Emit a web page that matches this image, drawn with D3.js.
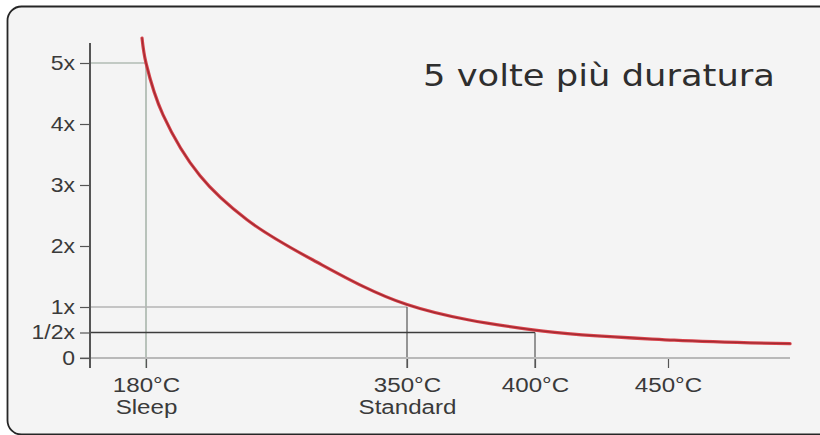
<!DOCTYPE html>
<html>
<head>
<meta charset="utf-8">
<script src="https://cdn.jsdelivr.net/npm/d3@7"></script>
<style>
  html, body { margin: 0; padding: 0; background: #ffffff; }
  svg { display: block; }
</style>
</head>
<body>
<svg id="chart" width="820" height="435"></svg>
<script>
// Tip temperature (°C) against relative tip life
const tempTicks = [180, 350, 400, 450];
const tempTickLabels = ["180°C", "350°C", "400°C", "450°C"];
const tempTickNotes = ["Sleep", "Standard", "", ""];

const lifeTicks = [0, 0.5, 1, 2, 3, 4, 5];
const lifeTickLabels = ["0", "1/2x", "1x", "2x", "3x", "4x", "5x"];

// Life curve samples
const curveTemps = [177.4, 180, 191.1, 215.2, 245.8, 288.8, 350, 399.2, 452.3, 495.9];
const curveLife  = [5.41, 5.0, 4.15, 3.15, 2.43, 1.77, 1.04, 0.55, 0.35, 0.28];

const title = "5 volte più duratura";

const svg = d3.select("#chart");

// Panel
svg.append("rect")
  .attr("x", 7.5).attr("y", 6.5)
  .attr("width", 860).attr("height", 428)
  .attr("rx", 14).attr("ry", 14)
  .attr("fill", "#f4f4f4")
  .attr("stroke", "#262626")
  .attr("stroke-width", 1.8);

// Scales (piecewise, the temperature axis is not evenly spaced)
const x = d3.scaleLinear().domain([180, 350, 400, 450]).range([146, 407, 535, 668]);
const y = d3.scaleLinear().domain([0, 1, 5]).range([358, 307, 63]);

const axisX0 = 90;       // y-axis position
const baseY = y(0);
const tickBottom = baseY + 10;

// Guide lines from the axis to the marked points
const guides = svg.append("g").attr("fill", "none");
guides.append("line")
  .attr("x1", axisX0).attr("x2", x(180)).attr("y1", y(5)).attr("y2", y(5))
  .attr("stroke", "#8fa093").attr("stroke-width", 1.2);
guides.append("line")
  .attr("x1", x(180)).attr("x2", x(180)).attr("y1", y(5)).attr("y2", tickBottom)
  .attr("stroke", "#8fa093").attr("stroke-width", 1.2);
guides.append("line")
  .attr("x1", axisX0).attr("x2", x(350)).attr("y1", y(1)).attr("y2", y(1))
  .attr("stroke", "#b4b4b4").attr("stroke-width", 1.3);
guides.append("line")
  .attr("x1", x(350)).attr("x2", x(350)).attr("y1", y(1)).attr("y2", tickBottom)
  .attr("stroke", "#555").attr("stroke-width", 1.2);
guides.append("line")
  .attr("x1", axisX0).attr("x2", x(400)).attr("y1", y(0.5)).attr("y2", y(0.5))
  .attr("stroke", "#3c3c3c").attr("stroke-width", 1.5);
guides.append("line")
  .attr("x1", x(400)).attr("x2", x(400)).attr("y1", y(0.5)).attr("y2", tickBottom)
  .attr("stroke", "#555").attr("stroke-width", 1.2);

// X axis
const xStretch = 1.15;
const xAxis = svg.append("g")
  .attr("transform", `translate(0,${baseY})`)
  .call(d3.axisBottom(x).tickValues(tempTicks).tickSize(10).tickSizeOuter(0).tickFormat(""));
xAxis.select(".domain").remove();
xAxis.selectAll(".tick line").attr("stroke", "#555").attr("stroke-width", 1.2);
xAxis.selectAll(".tick").each(function(d, i) {
  const t = d3.select(this).select("text")
    .attr("y", 0).attr("dy", null)
    .attr("transform", `translate(0,34) scale(${xStretch},1)`)
    .attr("fill", "#3a3a3a")
    .style("font-family", "'Liberation Sans', Arial, sans-serif")
    .style("font-size", "21px")
    .attr("text-anchor", "middle");
  t.text(null);
  t.append("tspan").attr("x", 0).attr("y", 0).text(tempTickLabels[i]);
  if (tempTickNotes[i]) {
    t.append("tspan").attr("x", 0).attr("y", 22).text(tempTickNotes[i]);
  }
});

// Baseline (zero line) across the plot
svg.append("line")
  .attr("x1", axisX0 - 10).attr("x2", 790)
  .attr("y1", baseY).attr("y2", baseY)
  .attr("stroke", "#b9b9b9").attr("stroke-width", 2);

// Y axis
const yStretch = 1.15;
const yAxis = svg.append("g")
  .attr("transform", `translate(${axisX0},0)`)
  .call(d3.axisLeft(y).tickValues(lifeTicks).tickSize(10).tickSizeOuter(0)
    .tickFormat((d, i) => lifeTickLabels[i]));
yAxis.select(".domain").remove();
yAxis.selectAll(".tick line").attr("stroke", "#555").attr("stroke-width", 1.2);
yAxis.selectAll(".tick text")
  .attr("x", null)
  .attr("transform", `translate(-15,0) scale(${yStretch},1)`)
  .attr("fill", "#3a3a3a")
  .style("font-family", "'Liberation Sans', Arial, sans-serif")
  .style("font-size", "20px");

svg.append("line")
  .attr("x1", axisX0).attr("x2", axisX0)
  .attr("y1", 43).attr("y2", tickBottom)
  .attr("stroke", "#555").attr("stroke-width", 2);

// Life curve
const pts = curveTemps.map((t, i) => [x(t), y(curveLife[i])]);
const line = d3.line().curve(d3.curveCatmullRom.alpha(0.5));
svg.append("path")
  .attr("d", line(pts))
  .attr("fill", "none")
  .attr("stroke", "#d8434b")
  .attr("stroke-width", 3.2)
  .attr("stroke-linecap", "round");
svg.append("path")
  .attr("d", line(pts))
  .attr("fill", "none")
  .attr("stroke", "#8e2228")
  .attr("stroke-width", 1.2)
  .attr("stroke-opacity", 0.75)
  .attr("stroke-linecap", "round");

// Title
svg.append("text")
  .attr("x", 423).attr("y", 86)
  .attr("fill", "#2e2e2e")
  .style("font-family", "'DejaVu Sans', Verdana, sans-serif")
  .style("font-size", "30px")
  .attr("textLength", 352)
  .attr("lengthAdjust", "spacingAndGlyphs")
  .text(title);
</script>
</body>
</html>
